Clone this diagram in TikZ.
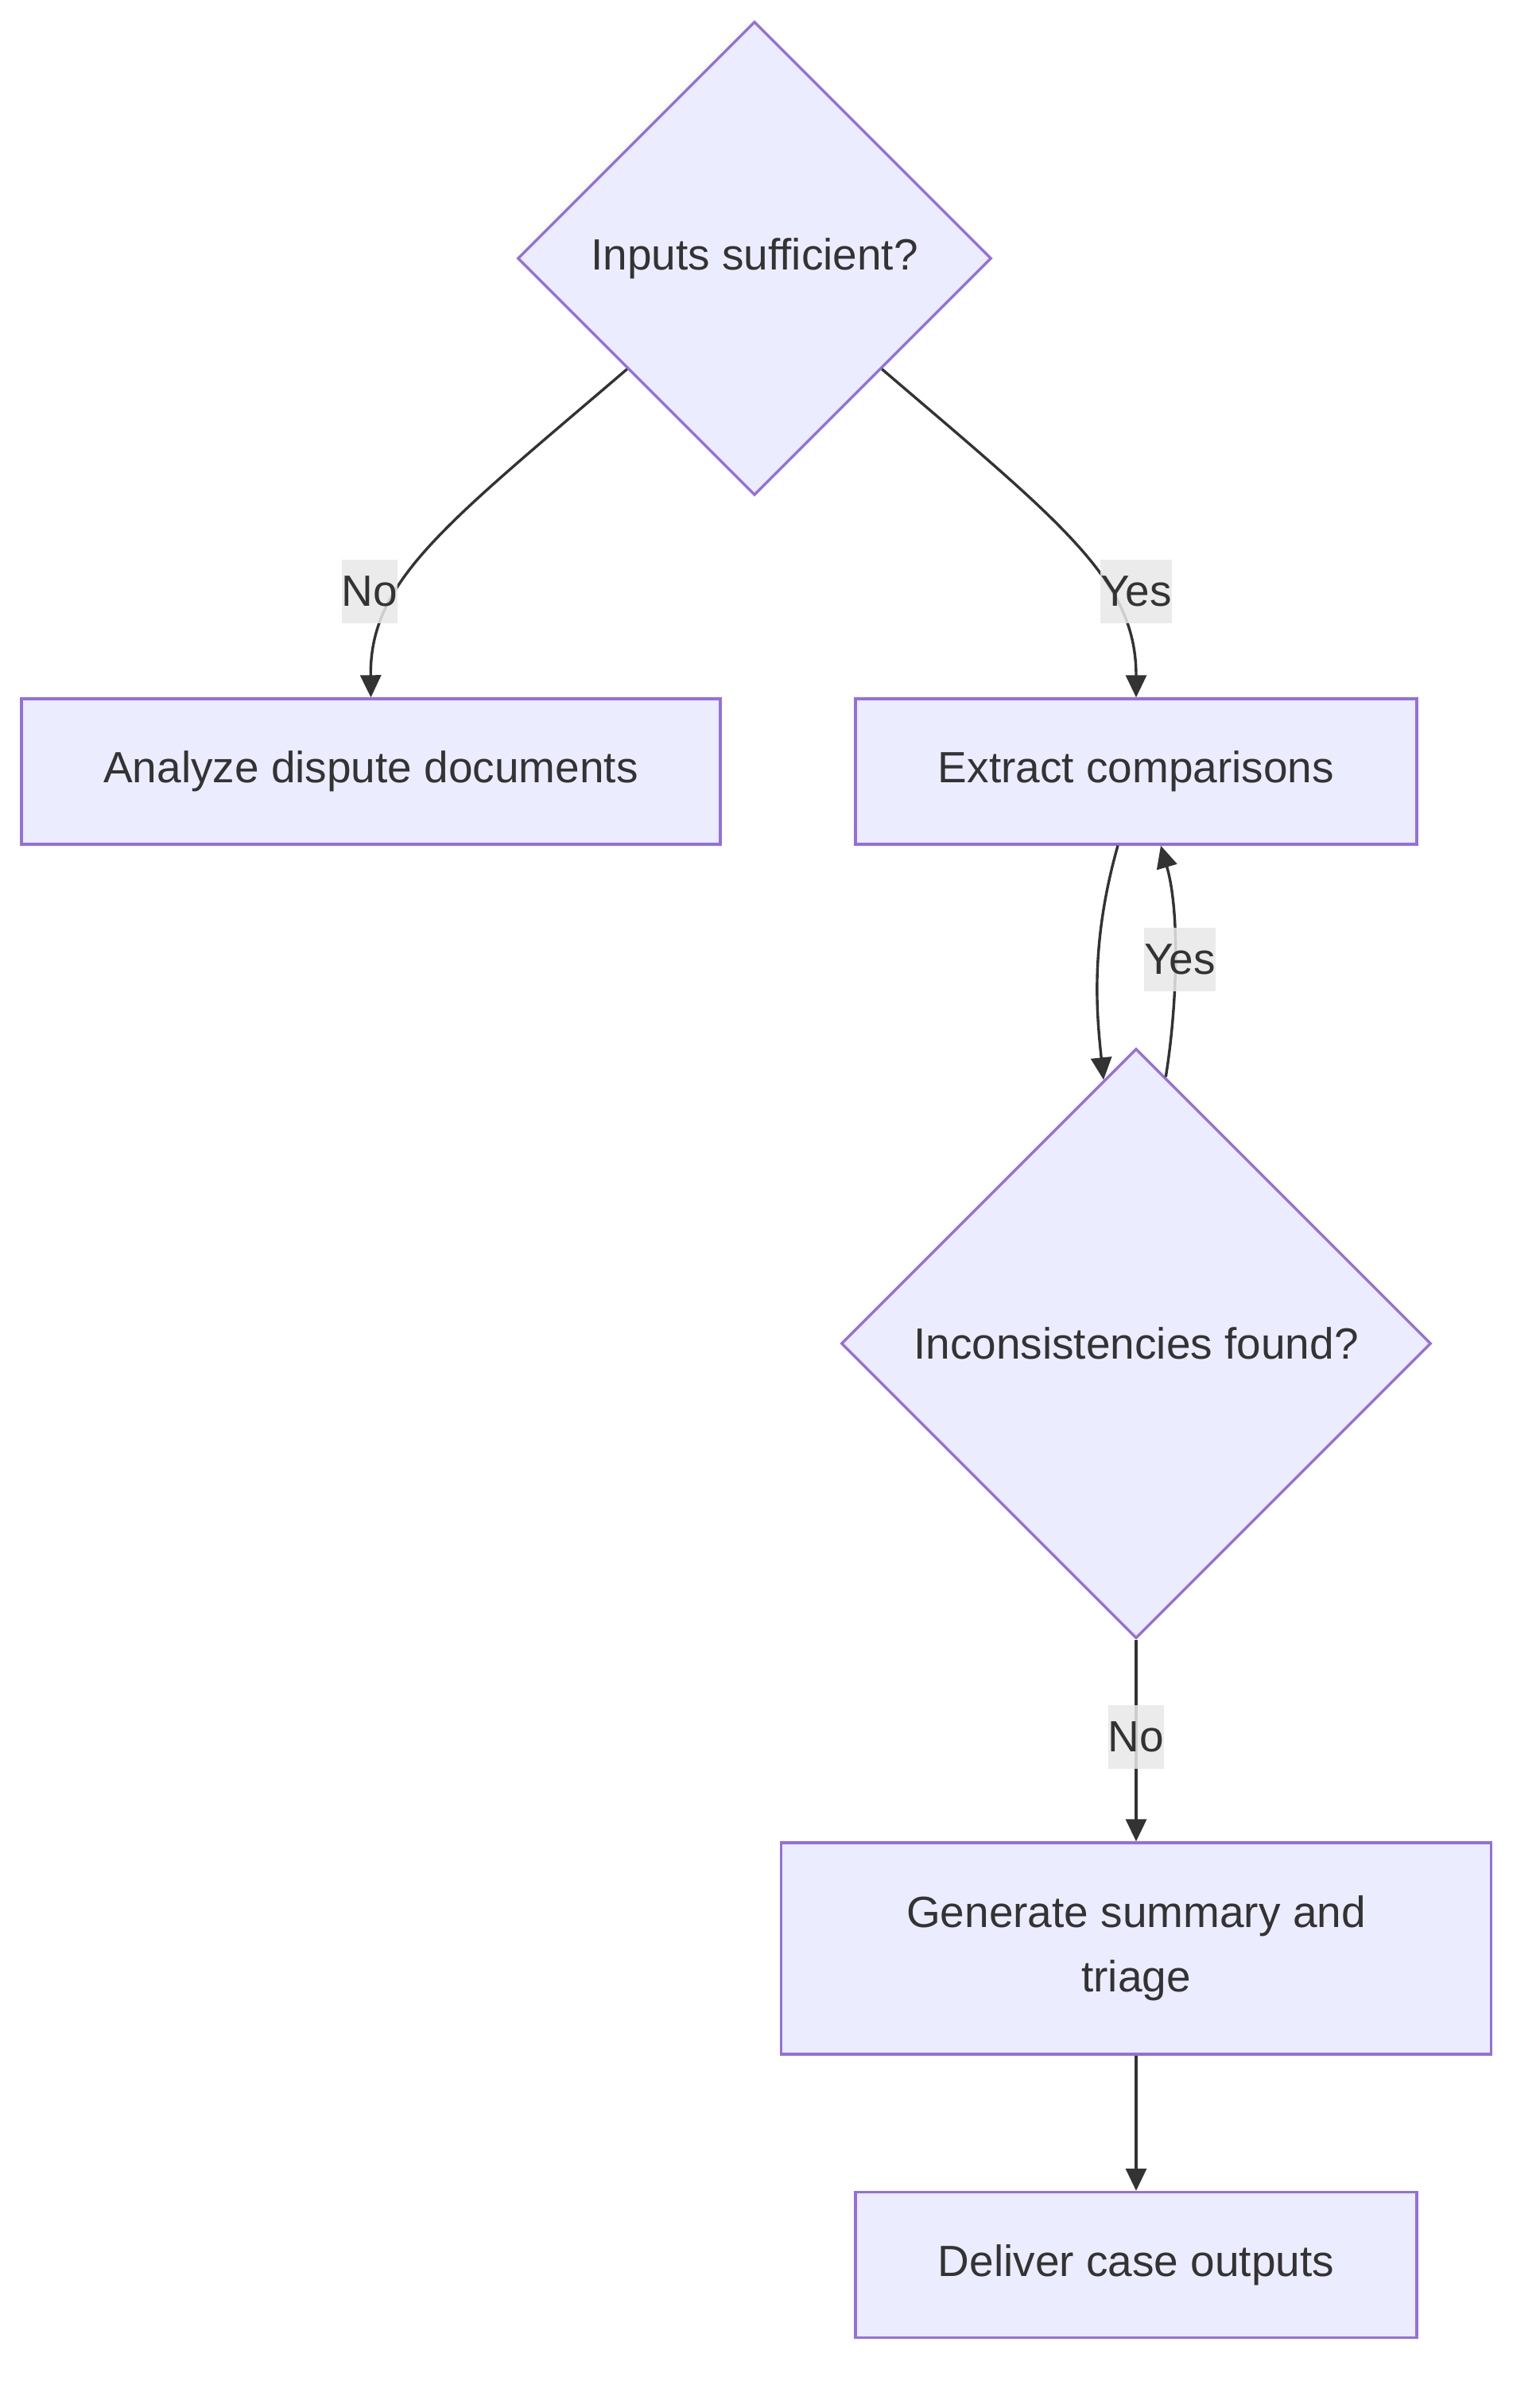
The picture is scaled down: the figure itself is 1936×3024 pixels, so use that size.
\documentclass[tikz,border=0pt]{standalone}
\usepackage{fontspec}
\setmainfont{Liberation Sans}
\usetikzlibrary{shapes.geometric,arrows.meta,calc}
\definecolor{nodefill}{HTML}{ECECFF}
\definecolor{nodeline}{HTML}{9370DB}
\definecolor{ink}{HTML}{333333}
\definecolor{lblfill}{HTML}{E8E8E8}
\begin{document}
\begin{tikzpicture}[x=1pt,y=-1pt,
  txt/.style={text=ink, font=\fontsize{55}{81}\selectfont},
  box/.style={txt, draw=nodeline, fill=nodefill, line width=3.4pt, align=center, inner sep=0pt},
  decision/.style={txt, diamond, aspect=1, draw=nodeline, fill=nodefill, line width=3.4pt, inner sep=0pt},
  edge/.style={draw=ink, line width=3.4pt, -{Triangle[length=28pt,width=26pt]}},
  lbl/.style={txt, fill=lblfill, fill opacity=0.85, text opacity=1, inner xsep=0pt, inner ysep=0pt, minimum height=80pt}]
\path[fill=white] (0,0) rectangle (1936,3024);
% nodes
\node[decision, minimum width=596pt, minimum height=596pt] (d1) at (949,325) {Inputs sufficient?};
\node[box, minimum width=879pt, minimum height=183pt] (analyze) at (466.5,970.5) {Analyze dispute documents};
\node[box, minimum width=706pt, minimum height=183pt] (extract) at (1429,970.5) {Extract comparisons};
\node[decision, minimum width=742pt, minimum height=742pt] (d2) at (1429,1690) {Inconsistencies found?};
\node[box, minimum width=893pt, minimum height=266pt] (gen) at (1429,2451) {Generate summary and\\triage};
\node[box, minimum width=706pt, minimum height=183pt] (deliver) at (1429,2849) {Deliver case outputs};
% connectors
\coordinate (s1) at ($(d1.west)!0.465!(d1.south)$);
\coordinate (s2) at ($(d1.east)!0.465!(d1.south)$);
\draw[edge] (s1) .. controls (560,660) and (465,730) .. (analyze.north);
\draw[edge] (s2) .. controls (1338,660) and (1429,730) .. (extract.north);
\coordinate (e1s) at ([xshift=-23pt]extract.south);
\coordinate (e1t) at ($(d2.north)!0.11!(d2.west)$);
\draw[edge] (e1s) .. controls (1370,1190) and (1380,1280) .. (e1t);
\coordinate (e2s) at ($(d2.north)!0.10!(d2.east)$);
\coordinate (e2t) at ([xshift=31pt]extract.south);
\draw[edge] (e2s) .. controls (1480,1270) and (1485,1150) .. (e2t);
\draw[edge] (d2.south) -- (gen.north);
\draw[edge] (gen.south) -- (deliver.north);
% labels
\node[lbl] (lno1) at (465,744) {No};
\node[lbl] (lyes1) at (1429,744) {Yes};
\node[lbl] (lyes2) at (1484,1207) {Yes};
\node[lbl] (lno2) at (1429,2185) {No};
\end{tikzpicture}
\end{document}
